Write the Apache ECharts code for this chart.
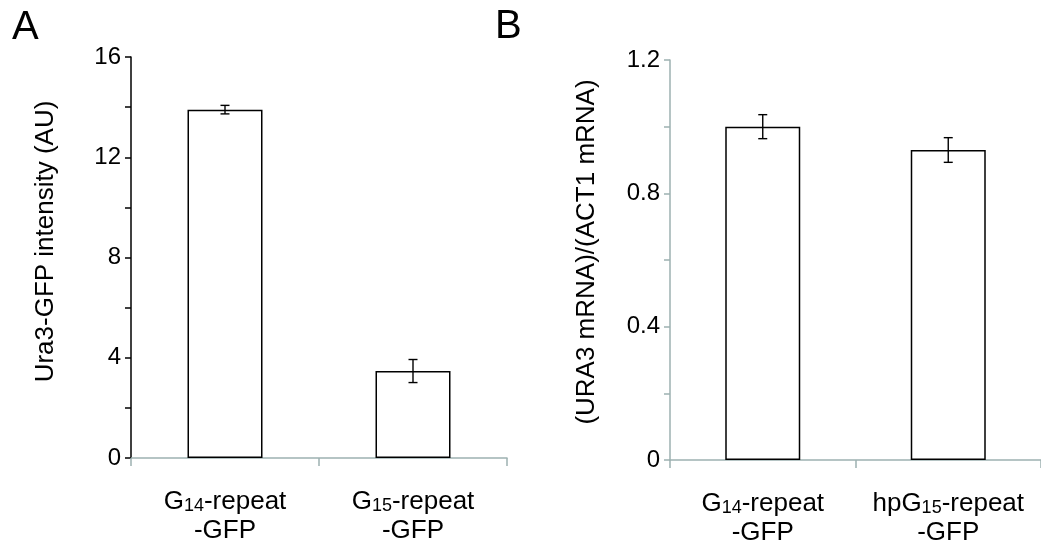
<!DOCTYPE html>
<html>
<head>
<meta charset="utf-8">
<script src="https://cdn.jsdelivr.net/npm/echarts@6/dist/echarts.min.js"></script>
<style>
  html, body { margin: 0; padding: 0; background: #fff; }
  #chart { width: 1041px; height: 546px; }
</style>
</head>
<body>
<div id="chart"></div>
<script>
// panel A: Ura3-GFP intensity
var catsA = ['G_14-repeat\n-GFP', 'G_15-repeat\n-GFP'];
var valsA = [13.9, 3.47];
var errsA = [0.17, 0.46];

// panel B: URA3 / ACT1 mRNA ratio
var catsB = ['G_14-repeat\n-GFP', 'hpG_15-repeat\n-GFP'];
var valsB = [1.0, 0.93];
var errsB = [0.036, 0.037];

var ticksA = [0, 4, 8, 12, 16];
var ticksB = [0, 0.4, 0.8, 1.2];

var FONT = '"Liberation Sans", Arial, sans-serif';
var GREY = '#9db1b1';

var chart = echarts.init(document.getElementById('chart'));

// "G_14-repeat" -> rich text with subscript
var richLabel = function(s) {
    return s.split('\n').map(function(line) {
        return '{a|' + line.replace(/_(\d+)/, '}{s|$1}{a|') + '}';
    }).join('\n');
};

var tickFormatter = function(list) {
    return function(v) {
        for (var i = 0; i < list.length; i++) {
            if (Math.abs(list[i] - v) < 1e-6) return String(list[i]);
        }
        return '';
    };
};

var errorSeries = function(idx, vals, errs) {
    return {
        type: 'custom',
        xAxisIndex: idx,
        yAxisIndex: idx,
        z: 10,
        data: vals.map(function(v, i) { return [i, v, errs[i]]; }),
        renderItem: function(params, api) {
            var x = api.value(0), v = api.value(1), e = api.value(2);
            var hi = api.coord([x, v + e]);
            var lo = api.coord([x, v - e]);
            var w = 4.5;
            var st = { stroke: '#000', lineWidth: 1.4 };
            return {
                type: 'group',
                children: [
                    { type: 'line', shape: { x1: hi[0], y1: hi[1], x2: lo[0], y2: lo[1] }, style: st },
                    { type: 'line', shape: { x1: hi[0] - w, y1: hi[1], x2: hi[0] + w, y2: hi[1] }, style: st },
                    { type: 'line', shape: { x1: lo[0] - w, y1: lo[1], x2: lo[0] + w, y2: lo[1] }, style: st }
                ]
            };
        }
    };
};

var xAxisCfg = function(idx, cats) {
    return {
        type: 'category',
        gridIndex: idx,
        data: cats,
        axisLine: { lineStyle: { color: GREY, width: 1.5 } },
        axisTick: { show: true, length: 8, lineStyle: { color: GREY, width: 1.5 } },
        axisLabel: {
            margin: 29,
            interval: 0,
            formatter: richLabel,
            rich: {
                a: { fontFamily: FONT, fontSize: 26, color: '#000', lineHeight: 29 },
                s: { fontFamily: FONT, fontSize: 18, color: '#000', lineHeight: 14, padding: [10, 0, 0, 0] }
            }
        }
    };
};

var yAxisCfg = function(idx, max, interval, ticks, name, lineColor, gap, pad) {
    return {
        type: 'value',
        gridIndex: idx,
        min: 0,
        max: max,
        interval: interval,
        name: name,
        nameLocation: 'middle',
        nameGap: gap,
        nameTextStyle: { fontFamily: FONT, fontSize: 26, color: '#000', padding: [0, 0, 0, pad] },
        splitLine: { show: false },
        axisLine: { show: true, lineStyle: { color: lineColor, width: 1.5 } },
        axisTick: { show: true, length: 6, lineStyle: { color: lineColor, width: 1.5 } },
        axisLabel: {
            margin: 10,
            fontFamily: FONT,
            fontSize: 24,
            color: '#000',
            formatter: tickFormatter(ticks)
        }
    };
};

var barSeries = function(idx, vals) {
    return {
        type: 'bar',
        xAxisIndex: idx,
        yAxisIndex: idx,
        data: vals,
        barWidth: 75,
        itemStyle: { color: '#fff', borderColor: '#000', borderWidth: 1.5 },
        silent: true
    };
};

var option = {
    backgroundColor: '#fff',
    animation: false,
    grid: [
        { left: 131, top: 57, width: 376, height: 401 },
        { left: 670, top: 60, width: 376, height: 400 }
    ],
    xAxis: [xAxisCfg(0, catsA), xAxisCfg(1, catsB)],
    yAxis: [
        yAxisCfg(0, 16, 2, ticksA, 'Ura3-GFP intensity (AU)', '#000', 72, 32),
        yAxisCfg(1, 1.2, 0.2, ticksB, '(URA3 mRNA)/(ACT1 mRNA)', GREY, 70, 16)
    ],
    graphic: [
        { type: 'text', left: 12, top: 8, style: { text: 'A', fontFamily: FONT, fontSize: 40, fill: '#000' } },
        { type: 'text', left: 495, top: 7, style: { text: 'B', fontFamily: FONT, fontSize: 40, fill: '#000' } }
    ],
    series: [
        barSeries(0, valsA),
        barSeries(1, valsB),
        errorSeries(0, valsA, errsA),
        errorSeries(1, valsB, errsB)
    ]
};

chart.setOption(option);
</script>
</body>
</html>
